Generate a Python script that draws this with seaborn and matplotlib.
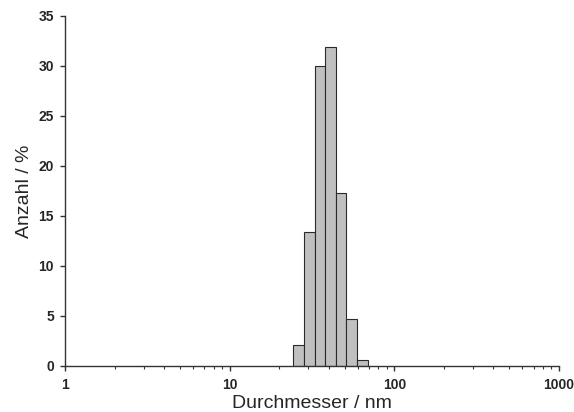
import matplotlib
matplotlib.use("Agg")
import matplotlib.pyplot as plt
import seaborn as sns
import numpy as np

# bin edges (nm) and number fraction (%)
bin_edges = [24.3, 28.4, 33.0, 38.0, 44.0, 51.1, 59.3, 68.8]
anzahl = [2.1, 13.4, 30.0, 31.9, 17.3, 4.7, 0.6]
x_ticks = [1, 10, 100, 1000]
y_ticks = [0, 5, 10, 15, 20, 25, 30, 35]

sns.set_style("ticks")
plt.rcParams["font.family"] = ["Liberation Sans", "DejaVu Sans"]

centers = [np.sqrt(a * b) for a, b in zip(bin_edges[:-1], bin_edges[1:])]

fig = plt.figure(figsize=(5.74, 4.12), dpi=100)
ax = fig.add_axes([0.1132, 0.1117, 0.8607, 0.8495])

sns.histplot(x=centers, weights=anzahl, bins=bin_edges, stat="count",
             color="#c0c0c0", edgecolor="#2a2a2a", linewidth=0.8, alpha=1,
             ax=ax)

ax.set_xscale("log")
ax.set_xlim(1, 1000)
ax.set_ylim(0, 35)
ax.set_xticks(x_ticks)
ax.set_xticklabels([str(t) for t in x_ticks])
ax.set_yticks(y_ticks)
ax.set_yticklabels([str(t) for t in y_ticks])

ax.tick_params(axis="both", which="major", direction="out", length=3.5,
               width=1, color="#333333", labelsize=10)
ax.tick_params(axis="y", which="major", pad=4.5)
ax.tick_params(axis="x", which="major", pad=5)
ax.tick_params(axis="x", which="minor", direction="out", length=2.5,
               width=0.8, color="#333333")
ax.minorticks_on()
ax.yaxis.set_minor_locator(matplotlib.ticker.NullLocator())

for lab in ax.get_xticklabels() + ax.get_yticklabels():
    lab.set_fontweight("bold")

sns.despine(ax=ax)
for s in ["left", "bottom"]:
    ax.spines[s].set_color("#333333")
    ax.spines[s].set_linewidth(1)

ax.set_xlabel("Durchmesser / nm", fontsize=14, labelpad=2)
ax.set_ylabel("Anzahl / %", fontsize=14, labelpad=4)

fig.savefig("out.png", dpi=100)
